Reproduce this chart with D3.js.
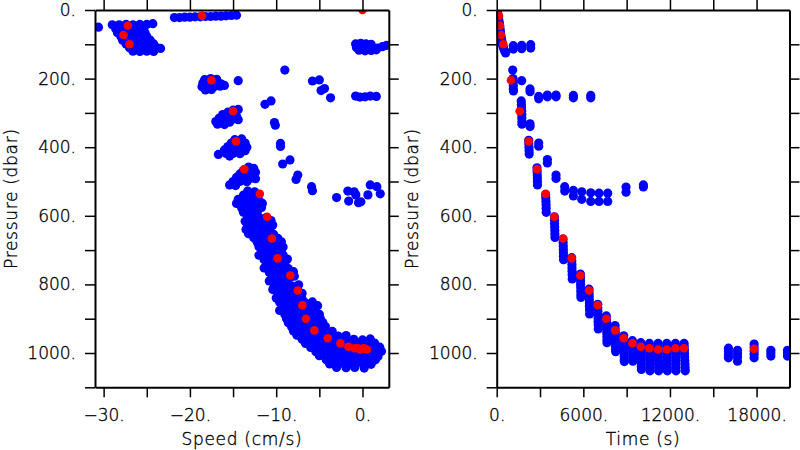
<!DOCTYPE html>
<html><head><meta charset="utf-8">
<script src="https://cdn.jsdelivr.net/npm/d3@7"></script>
<style>
body{margin:0;background:#fff}
text{font-family:"DejaVu Sans",sans-serif;font-size:17px;fill:#000;font-weight:300;stroke:#000;stroke-width:0.35px}
</style>
</head><body><svg id="c" width="800" height="450"></svg>
<script>
// ---------------- DATA ----------------
const pressureTicks = [0,100,200,300,400,500,600,700,800,900,1000,1100];
const pressureLabels = [0,200,400,600,800,1000];
const pressureRightTicks = [100,200,300,400,500,600,700,800,900,1000];
const speedTicks = [-30,-25,-20,-15,-10,-5,0];
const speedLabels = [-30,-20,-10,0];
const timeTicks = [0,3000,6000,9000,12000,15000,18000];
const timeLabels = [0,6000,12000,18000];

// mean values (red): pressure, speed, time
const meanPressure = [0,17,46,73,100,205,295,383,464,536,603,666,724,774,818,861,900,934,957,972,982,986,990,990,986,986,988];
const meanSpeed    = [0,-18.6,-27.2,-27.7,-27.0,-17.5,-15.0,-14.65,-13.7,-11.9,-11.05,-10.5,-9.84,-8.37,-7.5,-6.97,-6.55,-5.58,-4.02,-2.56,-1.63,-0.93,-0.27,0.51,-0.5,0.1,0.3];
const meanTime     = [0,160,230,300,460,990,1590,2215,2790,3390,3995,4595,5195,5795,6395,7000,7595,8200,8800,9400,9980,10575,11180,11780,12380,12980,17830];

// speed vs pressure samples (blue): [speed, pressure]
const speedSurface = [[-21.8,22],[-21.2,22],[-20.6,21],[-20.0,21],[-19.4,20],[-18.8,20],[-18.2,19],[-17.6,19],[-17.0,18],[-16.4,18],[-15.8,17],[-15.2,16],[-14.6,15]];
const speedUpper = [
 [-30.6,50],
 [-29.0,43],[-28.2,43],[-27.4,42],[-26.6,43],[-25.8,42],[-25.0,42],[-24.3,40],
 [-28.6,55],[-27.8,55],[-27.0,56],[-26.2,55],[-25.4,56],
 [-28.4,66],[-27.6,67],[-26.8,66],[-26.0,67],[-25.2,66],
 [-28.0,77],[-27.2,78],[-26.4,77],[-25.6,78],[-25.0,77],
 [-27.8,88],[-27.0,89],[-26.2,88],[-25.4,89],[-24.6,88],
 [-27.4,99],[-26.6,100],[-25.8,99],[-25.0,100],[-24.2,99],
 [-27.0,110],[-26.2,111],[-25.4,110],[-24.6,111],[-23.8,110],[-23.4,112],
 [-26.6,120],[-25.8,121],[-25.0,120],[-24.2,121],
 [-0.8,99],[-0.2,97],[0.4,99],[1.0,100],[-0.7,109],[-0.1,111],[0.5,112],[1.1,112],[1.7,111],[2.3,107],[2.8,103],[-0.4,117],[0.3,119],[1.0,118],[1.6,116],
 [-0.8,251],[-0.3,254],[0.3,253],[0.9,251],[1.6,252],
 [-18.3,203],[-17.6,200],[-16.9,202],[-18.5,213],[-17.8,212],[-17.1,213],[-16.4,215],[-18.6,224],[-17.9,226],[-17.2,224],[-16.5,222],[-16.0,220],[-18.2,233],[-17.5,232],[-14.4,206],
 [-15.0,292],[-14.4,290],[-15.6,298],[-14.7,300],[-16.2,305],[-15.4,308],[-14.6,310],[-16.6,315],[-15.8,316],[-15.0,318],[-14.4,320],[-17.0,325],[-16.2,326],[-15.4,327],[-16.8,333],[-16.0,334],
 [-14.8,378],[-14.0,376],[-15.2,388],[-14.4,386],[-13.6,388],[-15.6,398],[-14.8,397],[-14.0,398],[-13.4,400],[-16.0,408],[-15.2,407],[-14.4,408],[-13.6,410],[-15.8,418],[-15.0,418],[-14.2,419],[-16.7,421],[-15.4,426],
 [-13.2,458],[-12.6,462],[-13.8,468],[-13.0,470],[-12.4,473],[-14.2,478],[-13.4,480],[-12.7,482],[-14.6,488],[-13.8,490],[-13.0,491],[-12.4,492],[-15.0,500],[-14.2,500],[-13.4,501],[-15.4,510],[-14.7,512],
 [-13.3,528],[-12.5,530],[-13.8,540],[-13.0,542],[-12.2,540],[-14.4,552],[-13.6,553],[-12.8,552],[-12.0,555],[-14.6,564],[-13.8,566],[-13.0,565],[-12.2,566],[-11.6,564],[-14.0,577],[-13.2,578],[-12.4,578],[-11.7,576],[-13.8,590],[-13.0,589],[-12.2,590],[-13.2,600],[-12.4,602]
];
const speedScatter = [
 [-9.0,175],[-5.8,207],[-5.0,204],[-4.8,235],[-4.4,229],[-3.7,256],[-11.3,275],[-10.6,265],
 [-10.2,328],[-10.1,336],[-9.5,389],[-9.5,398],[-9.25,449],[-8.4,437],[-7.7,494],[-7.5,481],
 [-5.9,515],[-5.8,527],[-3.0,547],[-1.7,528],[-1.6,557],[-0.97,530],[-0.77,539],[-0.46,562],
 [-0.19,559],[0.63,539],[0.9,510],[1.67,515],[2.06,536]
];
const speedBand = [
 [-13.0,605],[-12.0,605],[-11.2,606],
 [-13.6,616],[-12.6,615],[-11.6,616],[-10.6,614],
 [-13.3,628],[-12.3,628],[-11.3,629],[-10.4,627],
 [-13.5,640],[-12.6,641],[-11.7,640],[-10.7,642],
 [-13.2,652],[-12.2,653],[-11.2,652],[-10.3,654],
 [-12.6,664],[-11.6,665],[-10.6,664],[-9.8,666],
 [-12.2,677],[-11.2,676],[-10.2,678],[-9.4,676],
 [-12.0,690],[-11.0,689],[-10.0,690],[-9.2,691],
 [-11.7,702],[-10.7,703],[-9.7,702],
 [-12.0,715],[-11.0,714],[-10.0,716],[-9.2,714],
 [-11.4,728],[-10.4,727],[-9.5,729],[-8.7,726],
 [-11.0,740],[-10.0,741],[-9.0,740],
 [-11.4,752],[-10.4,753],[-9.4,752],[-8.6,754],
 [-10.8,765],[-9.8,764],[-8.8,766],[-8.0,763],
 [-10.4,778],[-9.4,777],[-8.4,779],[-7.9,776],
 [-10.8,790],[-9.8,791],[-8.8,790],
 [-10.2,803],[-9.2,802],[-8.2,804],[-7.4,801],
 [-10.4,815],[-9.4,816],[-8.4,815],[-7.5,817],
 [-9.8,828],[-8.8,827],[-7.8,829],[-7.0,826],
 [-10.0,840],[-9.0,841],[-8.0,840],[-7.0,842],
 [-9.6,852],[-8.6,853],[-7.6,852],[-6.6,854],[-5.8,851],
 [-9.2,864],[-8.2,865],[-7.2,864],[-6.3,866],[-5.2,862],
 [-9.6,876],[-8.6,877],[-7.6,876],[-6.6,878],[-5.6,875],
 [-9.0,888],[-8.0,889],[-7.0,888],[-6.0,890],[-5.0,887],
 [-8.8,900],[-7.8,901],[-6.8,900],[-5.8,902],[-4.9,899],
 [-8.6,912],[-7.6,913],[-6.6,912],[-5.6,914],[-4.6,911],
 [-8.2,924],[-7.2,925],[-6.2,924],[-5.2,926],[-4.3,923],
 [-8.0,936],[-7.2,937],[-6.4,936],[-5.4,938],[-4.4,935],[-3.5,937],
 [-7.6,948],[-6.8,949],[-5.8,948],[-4.8,950],[-3.8,947],[-2.8,951],[-1.9,949],
 [-7.0,960],[-6.0,961],[-5.0,960],[-4.0,962],[-3.0,959],[-2.0,961],[-1.0,960],[0.0,962],[0.9,959],
 [-6.6,972],[-5.6,973],[-4.6,972],[-3.6,974],[-2.6,971],[-1.6,973],[-0.6,972],[0.4,974],[1.4,971],
 [-6.0,984],[-5.0,985],[-4.0,984],[-3.0,986],[-2.0,983],[-1.0,985],[0.0,984],[1.0,986],[2.0,983],
 [-5.4,996],[-4.4,997],[-3.4,996],[-2.4,998],[-1.4,995],[-0.4,997],[0.6,996],[1.6,998],[2.2,995],
 [-5.0,1008],[-4.0,1009],[-3.0,1008],[-2.0,1010],[-1.0,1007],[0.0,1009],[1.0,1008],[1.8,1010],
 [-4.2,1020],[-3.2,1021],[-2.2,1020],[-1.2,1022],[-0.2,1019],[0.8,1021],[1.5,1020],
 [-3.8,1032],[-2.8,1033],[-1.8,1032],[-0.8,1034],[0.2,1031],[1.0,1033],
 [-3.0,1042],[-1.9,1043],[-0.9,1042],[0.2,1044]
];

// time vs pressure samples (blue): [time, pressure]
const timeUpper = [
 [40,4],[70,11],[100,18],[130,26],[160,33],[190,40],[210,47],[230,54],[250,61],[270,68],[290,75],[320,82],[350,89],[380,96],[410,102],[450,108],[500,114],[560,120],[620,125],
 [1150,104],[1150,114],[1730,103],[1730,113],[2355,101],[2355,111],
 [1110,175],[1130,200],[1140,210],[1150,220],[1150,230],[1160,236],[1730,206],
 [2310,230],[2310,238],[2910,252],[2910,259],
 [3510,248],[3510,253],[4110,248],[4110,253],[5310,249],[5310,256],[6515,249],[6515,256],
 [1700,265],[1710,275],[1720,285],[1730,295],[1740,305],[1740,315],[1750,325],[1750,333],
 [2310,332],[2310,340],
 [2215,380],[2225,390],[2235,400],[2245,410],[2250,420],
 [2910,388],[2910,397],
 [2790,460],[2800,470],[2810,480],[2815,490],[2820,500],[2825,510],
 [3510,436],[3510,446],[4110,481],[4110,491],[4710,515],[4710,528],[5310,526],[5310,542],
 [5890,530],[5890,552],[6515,533],[6515,558],[7090,534],[7090,558],[7690,534],[7690,558],
 [8960,516],[8960,531],[10160,510],[10160,516],
 [3390,538],[3400,548],[3410,558],[3420,568],[3425,578],[3430,590]
];
const timeColumns = [
 [3995,603],[4005,613],[4010,623],[4020,633],[4025,643],[4030,653],[4035,663],
 [4595,668],[4600,678],[4610,688],[4615,698],[4620,708],[4625,718],[4630,728],
 [5195,722],[5200,732],[5210,742],[5215,752],[5220,762],[5225,772],[5230,784],
 [5795,770],[5800,780],[5810,790],[5815,800],[5820,810],[5825,820],[5830,830],[5835,838],
 [6395,814],[6400,824],[6410,834],[6415,844],[6420,854],[6425,864],[6430,874],[6435,886],
 [7000,858],[7005,868],[7010,878],[7015,888],[7020,898],[7025,908],[7030,918],[7035,930],
 [7595,892],[7600,902],[7610,912],[7615,922],[7620,932],[7625,942],[7630,952],[7635,962],[7640,970],
 [8200,920],[8205,930],[8210,940],[8215,950],[8220,960],[8225,970],[8230,980],[8235,990],[8240,996],
 [8800,950],[8805,960],[8810,970],[8815,980],[8820,990],[8825,1000],[8830,1010],[8835,1020],[8840,1025],
 [9400,964],[9405,974],[9410,984],[9415,994],[9420,1004],[9425,1014],[9430,1024],
 [9980,970],[9985,980],[9990,990],[9995,1000],[10000,1010],[10005,1020],[10010,1030],[10015,1040],[10020,1048],
 [10575,972],[10580,982],[10585,992],[10590,1002],[10595,1012],[10600,1022],[10605,1032],[10610,1042],[10615,1052],
 [11180,972],[11185,982],[11190,992],[11195,1002],[11200,1012],[11205,1022],[11210,1032],[11215,1042],[11220,1052],
 [11780,972],[11785,982],[11790,992],[11795,1002],[11800,1012],[11805,1022],[11810,1032],[11815,1042],[11820,1052],
 [12380,972],[12385,982],[12390,992],[12395,1002],[12400,1012],[12405,1022],[12410,1032],[12415,1042],[12420,1052],
 [12980,972],[12990,982],[13000,992],[13010,1002],[13020,1012],[13030,1022],[13040,1032],[13050,1042],[13060,1052],
 [16050,986],[16050,996],[16050,1006],[16050,1014],
 [16680,992],[16680,1002],[16680,1012],[16680,1024],
 [17830,974],[17830,984],[17830,994],[17830,1004],[17830,1014],
 [18990,992],[18990,1000],[18990,1009],
 [20140,992],[20140,1000],[20140,1009]
];

// ---------------- CHART ----------------
const svg = d3.select('#c');
const y = d3.scaleLinear().domain([0,1100]).range([10,387.3]);
const fmt = d => (d < 0 ? '\u2212' : '') + Math.abs(d) + '.';
const FONT = '"DejaVu Sans",sans-serif';

const panels = [
  { id:'L', x: d3.scaleLinear().domain([-31,3.05]).range([95,388.8]),
    ticks: speedTicks, labels: speedLabels, title: 'Speed (cm/s)',
    blue: [].concat(speedSurface, speedUpper, speedScatter, speedBand),
    red: meanSpeed.map((v,i)=>[v, meanPressure[i]]), ytitleX: 17 },
  { id:'R', x: d3.scaleLinear().domain([0,20280]).range([496.7,789.5]),
    ticks: timeTicks, labels: timeLabels, title: 'Time (s)',
    blue: [].concat(timeUpper, timeColumns),
    red: meanTime.map((t,i)=>[t, meanPressure[i]]), ytitleX: 418 }
];

panels.forEach(p => {
  const [x0,x1] = p.x.range();
  const [y0,y1] = y.range();
  svg.append('clipPath').attr('id','clip'+p.id).append('rect')
    .attr('x',x0).attr('y',y0).attr('width',x1-x0).attr('height',y1-y0);
  const g = svg.append('g').attr('clip-path','url(#clip'+p.id+')');
  g.selectAll('circle.b').data(p.blue).join('circle').attr('class','b')
    .attr('cx',d=>p.x(d[0])).attr('cy',d=>y(d[1])).attr('r',4.6).attr('fill','#0000ff');
  g.selectAll('circle.r').data(p.red).join('circle').attr('class','r')
    .attr('cx',d=>p.x(d[0])).attr('cy',d=>y(d[1])).attr('r',4.3).attr('fill','#ff0000');

  const lab = d => p.labels.includes(d) ? fmt(d) : '';
  const styleText = a => a.selectAll('text').style('font-size','17px').style('font-family',FONT)
    .style('font-weight','300').style('stroke','#000').style('stroke-width','0.35px');
  svg.append('g').attr('transform',`translate(0,${y1})`)
    .call(d3.axisBottom(p.x).tickValues(p.ticks).tickSize(10).tickSizeOuter(0).tickPadding(12).tickFormat(lab))
    .call(styleText);
  svg.append('g').attr('transform',`translate(0,${y0})`)
    .call(d3.axisTop(p.x).tickValues(p.ticks).tickSize(10).tickSizeOuter(0).tickFormat(''));
  svg.append('g').attr('transform',`translate(${x0},0)`)
    .call(d3.axisLeft(y).tickValues(pressureTicks).tickSize(10).tickSizeOuter(0).tickPadding(9)
      .tickFormat(d => pressureLabels.includes(d) ? fmt(d) : ''))
    .call(styleText);
  svg.append('g').attr('transform',`translate(${x1},0)`)
    .call(d3.axisRight(y).tickValues(pressureRightTicks).tickSize(10).tickSizeOuter(0).tickFormat(''));

  svg.append('text').attr('x',(x0+x1)/2).attr('y',445).attr('text-anchor','middle')
    .style('letter-spacing','0.7px').text(p.title);
  svg.append('text').attr('transform',`translate(${p.ytitleX},${(y0+y1)/2}) rotate(-90)`)
    .attr('text-anchor','middle').style('letter-spacing','0.7px').text('Pressure (dbar)');
});
svg.selectAll('.domain').attr('stroke-width',2);
svg.selectAll('.tick line').attr('stroke-width',1.5);
</script>
</body></html>
